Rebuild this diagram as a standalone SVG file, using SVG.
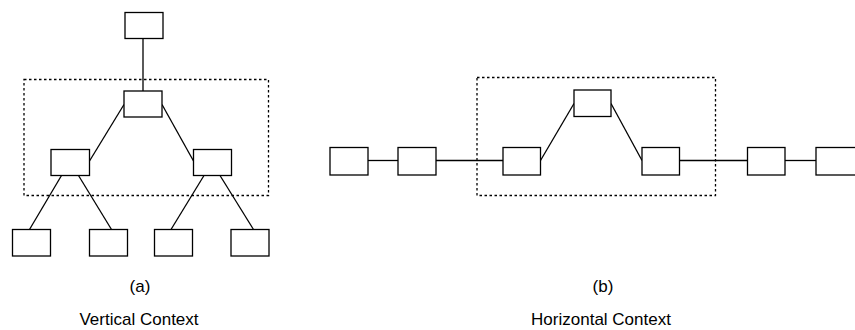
<svg xmlns="http://www.w3.org/2000/svg" width="855" height="330" viewBox="0 0 855 330">
<style>
.box{fill:#fff;stroke:#000;stroke-width:1.3}
.ln{stroke:#000;stroke-width:1.3;fill:none}
.dot{fill:none;stroke:#000;stroke-width:1.3;stroke-dasharray:2.5 2.5}
.lbl{font-family:"Liberation Sans",Arial,sans-serif;font-size:17px;fill:#000;text-anchor:middle}
</style>
<rect width="855" height="330" fill="#fff"/>
<g id="frames">
<rect class="dot" x="24" y="79.5" width="244.5" height="116"/>
<rect class="dot" x="477" y="77.5" width="238.5" height="118"/>
</g>
<g id="connectors">
<line class="ln" x1="143" y1="38.5" x2="143" y2="91"/>
<line class="ln" x1="124" y1="104.5" x2="89.5" y2="161"/>
<line class="ln" x1="162" y1="104.5" x2="193.5" y2="161"/>
<line class="ln" x1="61.5" y1="175.5" x2="29.5" y2="229.5"/>
<line class="ln" x1="78.5" y1="175.5" x2="111.5" y2="229.5"/>
<line class="ln" x1="204" y1="175.5" x2="171" y2="229.5"/>
<line class="ln" x1="220" y1="175.5" x2="253.5" y2="229.5"/>
<line class="ln" x1="368" y1="160.5" x2="398" y2="160.5"/>
<line class="ln" x1="436" y1="160.5" x2="503" y2="160.5"/>
<line class="ln" x1="540.5" y1="160.5" x2="574" y2="103.5"/>
<line class="ln" x1="611" y1="103.5" x2="642" y2="160.5"/>
<line class="ln" x1="679.5" y1="160.5" x2="747.5" y2="160.5"/>
<line class="ln" x1="785" y1="160.5" x2="816" y2="160.5"/>
</g>
<g id="v-root"><rect class="box" x="125" y="12.5" width="38" height="26"/></g>
<g id="v-mid"><rect class="box" x="124" y="91" width="38" height="26"/></g>
<g id="v-left"><rect class="box" x="51" y="149.5" width="38.5" height="26"/></g>
<g id="v-right"><rect class="box" x="193.5" y="149.5" width="38" height="26"/></g>
<g id="v-ll"><rect class="box" x="12.5" y="229.5" width="38" height="26.5"/></g>
<g id="v-lr"><rect class="box" x="89.5" y="229.5" width="38" height="26.5"/></g>
<g id="v-rl"><rect class="box" x="154.5" y="229.5" width="38" height="26.5"/></g>
<g id="v-rr"><rect class="box" x="231" y="229.5" width="38" height="26.5"/></g>
<g id="h-1"><rect class="box" x="330" y="147.5" width="38" height="27.5"/></g>
<g id="h-2"><rect class="box" x="398" y="147.5" width="38" height="27.5"/></g>
<g id="h-3"><rect class="box" x="503" y="147.5" width="37.5" height="27.5"/></g>
<g id="h-top"><rect class="box" x="574" y="90" width="37" height="26.5"/></g>
<g id="h-4"><rect class="box" x="642" y="147.5" width="37.5" height="27.5"/></g>
<g id="h-5"><rect class="box" x="747.5" y="147.5" width="37.5" height="27.5"/></g>
<g id="h-6"><rect class="box" x="816" y="147.5" width="45" height="27.5"/></g>
<g id="labels">
<text class="lbl" x="140" y="292">(a)</text>
<text class="lbl" x="139" y="325">Vertical Context</text>
<text class="lbl" x="603" y="292">(b)</text>
<text class="lbl" x="601" y="325">Horizontal Context</text>
</g>
</svg>
